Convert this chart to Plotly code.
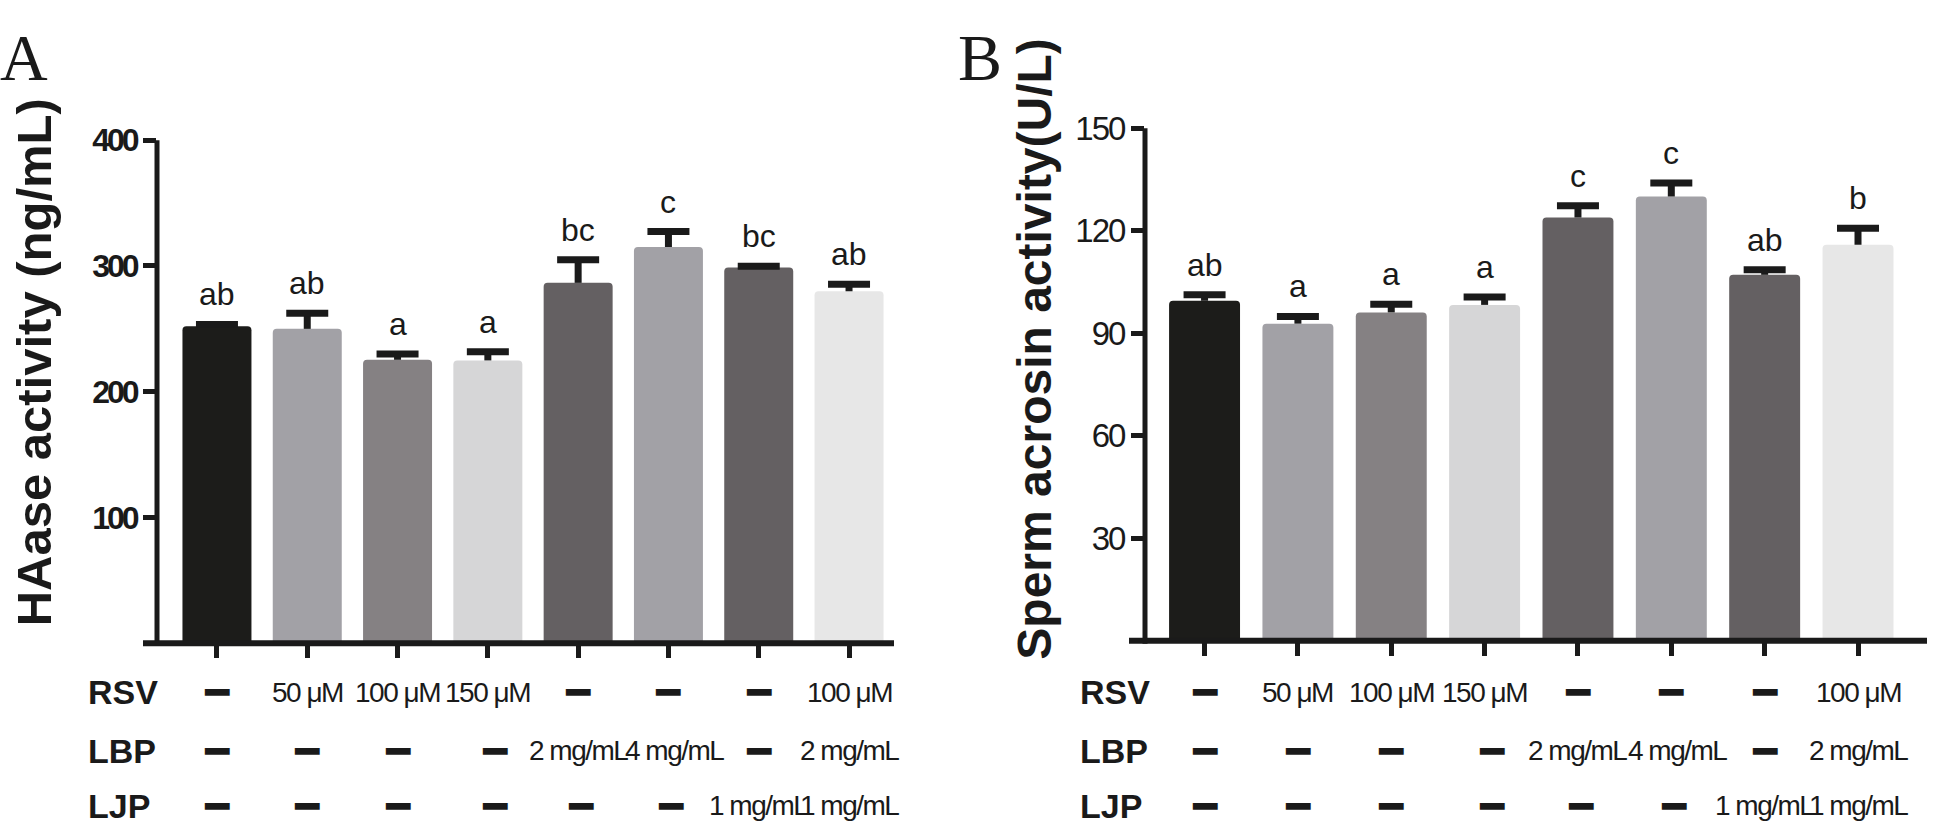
import plotly.graph_objects as go

# ---------------- data ----------------
groups = ["Control", "RSV 50", "RSV 100", "RSV 150", "LBP 2", "LBP 4", "LJP 1", "RSV+LBP+LJP"]
haase_mean = [252, 250, 225.4, 224.9, 286.6, 315.2, 298.8, 279.9]
haase_err = [1.5, 12.4, 4.6, 6.9, 18.3, 12.2, 1.0, 5.5]
haase_sig = ["ab", "ab", "a", "a", "bc", "c", "bc", "ab"]

acro_mean = [99.5, 92.8, 96.1, 98.3, 123.9, 130.0, 107.1, 115.9]
acro_err = [1.8, 2.1, 2.4, 2.3, 3.4, 4.0, 1.5, 4.8]
acro_sig = ["ab", "a", "a", "a", "c", "c", "ab", "b"]

row_names = ["RSV", "LBP", "LJP"]
rsv_row = ["", "50 μM", "100 μM", "150 μM", "", "", "", "100 μM"]
lbp_row = ["", "", "", "", "2 mg/mL", "4 mg/mL", "", "2 mg/mL"]
ljp_row = ["", "", "", "", "", "", "1 mg/mL", "1 mg/mL"]

haase_ticks = [100, 200, 300, 400]
acro_ticks = [30, 60, 90, 120, 150]

# ---------------- style ----------------
W, H = 1943, 830
DARK = "#1a1a1a"
bar_colors = ["#1c1c1a", "#a2a1a6", "#858183", "#d6d6d7", "#646062", "#a2a1a6", "#646062", "#e7e7e7"]
SANS = "Liberation Sans, Arial, sans-serif"
SERIF = "Liberation Serif, Times New Roman, serif"
DASH = "━"
TIGHT_ROW = "letter-spacing:-1.5px"
# small horizontal nudges (px) of some row entries, as in the original layout
NUDGE = {(1, 3): 7, (1, 5): 6, (2, 3): 7, (2, 4): 3, (2, 5): 3}


def fx(p):
    return p / W


def fy(p):
    return 1 - p / H


def tight(txt, style):
    return f'<span style="{style}">{txt}</span>'


panels = [
    dict(mean=haase_mean, err=haase_err, sig=haase_sig, ticks=haase_ticks, yr=[0, 400],
         title="HAase activity (ng/mL)", letter="A",
         xdom=[157, 894], xr=[-0.664, 7.498], ydom=[639, 125], yaxis_x=157, xline=[143, 894],
         tickbold=True, ticksize=32, tickstyle="letter-spacing:-3px",
         title_x=34, title_y=352, title_size=49, letter_x=-2, row_x=86, width=0.764),
    dict(mean=acro_mean, err=acro_err, sig=acro_sig, ticks=acro_ticks, yr=[0, 150],
         title="Sperm acrosin activity(U/L)", letter="B",
         xdom=[1145, 1927], xr=[-0.638, 7.739], ydom=[636.5, 112.7], yaxis_x=1145, xline=[1129, 1927],
         tickbold=False, ticksize=33, tickstyle="letter-spacing:-2px",
         title_x=1035, title_y=338, title_size=48, letter_x=956, row_x=1078, width=0.76),
]

fig = go.Figure()
annotations = []
shapes = []
row_y = [689, 749, 805]
rows = [rsv_row, lbp_row, ljp_row]

for k, p in enumerate(panels):
    xa = "x" if k == 0 else "x2"
    ya = "y" if k == 0 else "y2"
    n = len(groups)
    tops = [m + e for m, e in zip(p["mean"], p["err"])]
    fig.add_trace(go.Bar(
        x=list(range(n)), y=p["mean"], width=p["width"],
        marker=dict(color=bar_colors, line=dict(width=0), cornerradius=4),
        error_y=dict(type="data", symmetric=False, array=p["err"], arrayminus=[0] * n,
                     thickness=7, width=0, color=DARK),
        xaxis=xa, yaxis=ya, showlegend=False, hovertext=groups,
    ))
    # error-bar caps (upper only)
    fig.add_trace(go.Scatter(
        x=list(range(n)), y=tops, mode="markers",
        marker=dict(symbol="line-ew", size=30, line=dict(width=7, color=DARK)),
        xaxis=xa, yaxis=ya, showlegend=False, hoverinfo="skip",
    ))
    xkey = "xaxis" if k == 0 else "xaxis2"
    ykey = "yaxis" if k == 0 else "yaxis2"
    tick_txt = [tight(f"<b>{t}</b>" if p["tickbold"] else str(t), p["tickstyle"]) for t in p["ticks"]]
    fig.update_layout({
        xkey: dict(domain=[fx(p["xdom"][0]), fx(p["xdom"][1])], range=p["xr"], anchor=ya,
                   tickmode="array", tickvals=list(range(n)), ticktext=[""] * n,
                   ticks="outside", ticklen=14, tickwidth=5, tickcolor=DARK,
                   showline=False, showgrid=False, zeroline=False, fixedrange=True),
        ykey: dict(domain=[fy(p["ydom"][0]), fy(p["ydom"][1])], range=p["yr"], anchor=xa,
                   tickmode="array", tickvals=p["ticks"], ticktext=tick_txt,
                   ticks="outside", ticklen=13, tickwidth=5, tickcolor=DARK,
                   tickfont=dict(family=SANS, size=p["ticksize"], color=DARK),
                   showline=False, showgrid=False, zeroline=False, fixedrange=True),
    })
    shapes.append(dict(type="line", xref="paper", yref="paper",
                       x0=fx(p["yaxis_x"]), x1=fx(p["yaxis_x"]), y0=fy(p["ydom"][1]), y1=fy(p["ydom"][0] + 3),
                       line=dict(color=DARK, width=5)))
    shapes.append(dict(type="line", xref="paper", yref="paper",
                       x0=fx(p["xline"][0]), x1=fx(p["xline"][1]), y0=fy(p["ydom"][0]), y1=fy(p["ydom"][0]),
                       line=dict(color=DARK, width=6)))
    for i, s in enumerate(p["sig"]):
        annotations.append(dict(x=i, y=tops[i], xref=xa, yref=ya, text=s,
                                showarrow=False, yanchor="bottom", yshift=10,
                                font=dict(family=SANS, size=32, color=DARK)))
    annotations.append(dict(x=fx(p["title_x"]), y=fy(p["title_y"]), xref="paper", yref="paper",
                            text=f"<b>{p['title']}</b>", textangle=-90, showarrow=False,
                            xanchor="center", yanchor="middle",
                            font=dict(family=SANS, size=p["title_size"], color=DARK)))
    annotations.append(dict(x=fx(p["letter_x"]), y=fy(1), xref="paper", yref="paper",
                            text=p["letter"], showarrow=False, xanchor="left", yanchor="top",
                            font=dict(family=SERIF, size=66, color=DARK)))
    for r, (name, vals) in enumerate(zip(row_names, rows)):
        annotations.append(dict(x=fx(p["row_x"]), y=fy(row_y[r]), xref="paper", yref="paper",
                                text=f"<b>{name}</b>", showarrow=False, xanchor="left", yanchor="middle",
                                font=dict(family=SANS, size=34, color=DARK)))
        for i, v in enumerate(vals):
            shift = NUDGE.get((r, i), 0)
            if v:
                annotations.append(dict(x=i, y=fy(row_y[r]), xref=xa, yref="paper",
                                        text=tight(v, TIGHT_ROW), xshift=shift,
                                        showarrow=False, xanchor="center", yanchor="middle",
                                        font=dict(family=SANS, size=28, color=DARK)))
            else:
                annotations.append(dict(x=i, y=fy(row_y[r]), xref=xa, yref="paper", text=DASH,
                                        xshift=shift,
                                        showarrow=False, xanchor="center", yanchor="middle",
                                        font=dict(family="DejaVu Sans Mono", size=40, color=DARK)))

fig.update_layout(
    width=W, height=H, margin=dict(l=0, r=0, t=0, b=0),
    paper_bgcolor="white", plot_bgcolor="white",
    annotations=annotations, shapes=shapes,
)

fig.write_html("out.html", config={"displayModeBar": False},
               post_script="document.body.style.margin='0';")
